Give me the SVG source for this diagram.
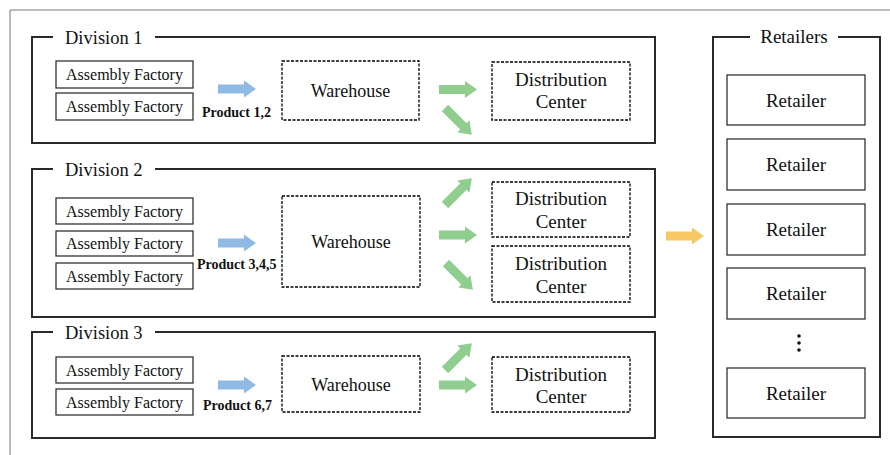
<svg xmlns="http://www.w3.org/2000/svg" xmlns:xlink="http://www.w3.org/1999/xlink" width="890" height="455" viewBox="0 0 890 455">
<style>
text{font-family:'Liberation Serif','DejaVu Serif',serif;fill:#111;}
.af{font-size:16px;text-anchor:middle;}
.wh{font-size:18px;text-anchor:middle;}
.dc{font-size:19px;text-anchor:middle;}
.lbl{font-size:18.5px;}
.prod{font-size:14px;font-weight:bold;}
.div{fill:none;stroke:#2a2a2a;stroke-width:2;}
.box{fill:#fff;stroke:#333;stroke-width:1.3;}
.dash{fill:#fff;stroke:#000;stroke-width:1.3;stroke-dasharray:3 1.5;}
.blue{fill:#8fbae4;}
.green{fill:#8fce8f;}
.orange{fill:#f8c867;}
</style>
<defs>
<path id="arr" d="M0,-4.5 H26 V-8.5 L38,0 L26,8.5 V4.5 H0 Z"/>
</defs>
<rect width="890" height="455" fill="#fff"/>
<path d="M10,455 V10 H890" fill="none" stroke="#777" stroke-width="1"/>

<g id="division1">
<path class="div" d="M53,37 H32 V143 H655 V37 H155"/>
<text class="lbl" x="65" y="44">Division 1</text>
</g>
<g id="division2">
<path class="div" d="M53,169 H32 V317 H655 V169 H155"/>
<text class="lbl" x="65" y="176">Division 2</text>
</g>
<g id="division3">
<path class="div" d="M53,332 H32 V438 H655 V332 H155"/>
<text class="lbl" x="65" y="339">Division 3</text>
</g>

<g id="d1-factory1"><rect class="box" x="56" y="61" width="137" height="27"/><text class="af" x="124.5" y="80">Assembly Factory</text></g>
<g id="d1-factory2"><rect class="box" x="56" y="93" width="137" height="27"/><text class="af" x="124.5" y="112">Assembly Factory</text></g>
<g id="d1-warehouse"><rect class="dash" x="282" y="61" width="137" height="59"/><text class="wh" x="350.5" y="97">Warehouse</text></g>
<g id="d1-dc"><rect class="dash" x="492" y="62" width="138" height="58"/><text class="dc" x="561" y="86">Distribution</text><text class="dc" x="561" y="108">Center</text></g>

<g id="d2-factory1"><rect class="box" x="56" y="198" width="137" height="26"/><text class="af" x="124.5" y="217">Assembly Factory</text></g>
<g id="d2-factory2"><rect class="box" x="56" y="231" width="137" height="25"/><text class="af" x="124.5" y="249">Assembly Factory</text></g>
<g id="d2-factory3"><rect class="box" x="56" y="263" width="137" height="26"/><text class="af" x="124.5" y="282">Assembly Factory</text></g>
<g id="d2-warehouse"><rect class="dash" x="282" y="196" width="138" height="91"/><text class="wh" x="351" y="248">Warehouse</text></g>
<g id="d2-dc1"><rect class="dash" x="492" y="182" width="138" height="55"/><text class="dc" x="561" y="205">Distribution</text><text class="dc" x="561" y="228">Center</text></g>
<g id="d2-dc2"><rect class="dash" x="492" y="246" width="138" height="56"/><text class="dc" x="561" y="270">Distribution</text><text class="dc" x="561" y="293">Center</text></g>

<g id="d3-factory1"><rect class="box" x="56" y="357" width="137" height="26"/><text class="af" x="124.5" y="376">Assembly Factory</text></g>
<g id="d3-factory2"><rect class="box" x="56" y="389" width="137" height="26"/><text class="af" x="124.5" y="408">Assembly Factory</text></g>
<g id="d3-warehouse"><rect class="dash" x="282" y="356" width="138" height="56"/><text class="wh" x="351" y="391">Warehouse</text></g>
<g id="d3-dc"><rect class="dash" x="492" y="357" width="138" height="55"/><text class="dc" x="561" y="381">Distribution</text><text class="dc" x="561" y="403">Center</text></g>

<g id="retailers">
<path class="div" d="M750,37 H713 V437 H880 V37 H838"/>
<text class="dc" x="794" y="43">Retailers</text>
</g>
<g id="retailer1"><rect class="box" x="727" y="75" width="138" height="50"/><text class="dc" x="796" y="107">Retailer</text></g>
<g id="retailer2"><rect class="box" x="727" y="139" width="138" height="51"/><text class="dc" x="796" y="171">Retailer</text></g>
<g id="retailer3"><rect class="box" x="727" y="204" width="138" height="51"/><text class="dc" x="796" y="236">Retailer</text></g>
<g id="retailer4"><rect class="box" x="727" y="268" width="138" height="51"/><text class="dc" x="796" y="300">Retailer</text></g>
<g id="ellipsis"><circle cx="799" cy="336" r="1.8" fill="#111"/><circle cx="799" cy="343" r="1.8" fill="#111"/><circle cx="799" cy="350" r="1.8" fill="#111"/></g>
<g id="retailer5"><rect class="box" x="727" y="368" width="138" height="50"/><text class="dc" x="796" y="400">Retailer</text></g>

<g id="connectors">
<use xlink:href="#arr" class="blue" transform="translate(218,89)"/>
<text class="prod" x="202" y="117">Product 1,2</text>
<use xlink:href="#arr" class="green" transform="translate(439,89.5)"/>
<use xlink:href="#arr" class="green" transform="translate(445,108) rotate(45)"/>

<use xlink:href="#arr" class="blue" transform="translate(218,243)"/>
<text class="prod" x="197" y="269">Product 3,4,5</text>
<use xlink:href="#arr" class="green" transform="translate(445,205) rotate(-45)"/>
<use xlink:href="#arr" class="green" transform="translate(439,235)"/>
<use xlink:href="#arr" class="green" transform="translate(446,263) rotate(45)"/>

<use xlink:href="#arr" class="blue" transform="translate(218,385)"/>
<text class="prod" x="203" y="410">Product 6,7</text>
<use xlink:href="#arr" class="green" transform="translate(445,370) rotate(-45)"/>
<use xlink:href="#arr" class="green" transform="translate(439,385)"/>

<use xlink:href="#arr" class="orange" transform="translate(666,236)"/>
</g>
</svg>
